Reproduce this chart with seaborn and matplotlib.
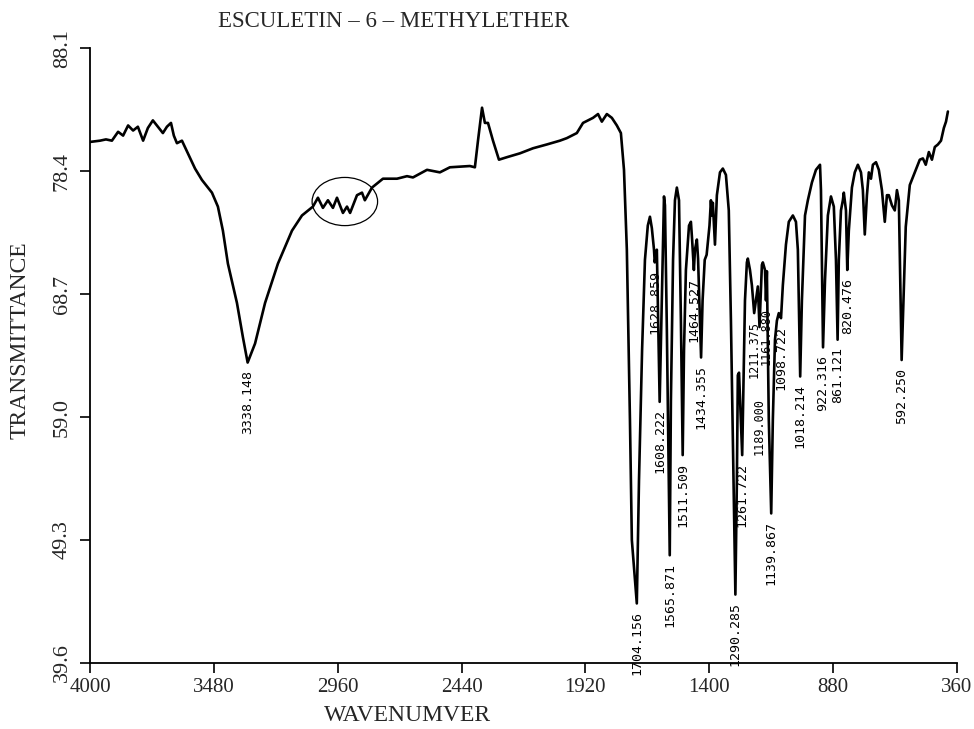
import pandas as pd
import matplotlib.pyplot as plt
import seaborn as sns
from matplotlib.patches import Ellipse

# IR spectrum trace (wavenumber in cm-1, transmittance in %)
wavenumber = [
    4000, 3958, 3933, 3908, 3882, 3861, 3840, 3819, 3799, 3777, 3757, 3736, 3715, 3694,
    3677, 3660, 3648, 3635, 3614, 3589, 3559, 3530, 3488, 3463, 3442, 3421, 3383, 3358,
    3338.148, 3307, 3265, 3211, 3152, 3110, 3064, 3043, 3022, 3001, 2980, 2963, 2938, 2921,
    2908, 2879, 2858, 2846, 2816, 2770, 2711, 2669, 2644, 2585, 2531, 2489, 2405, 2384,
    2371, 2354, 2342, 2329, 2308, 2283, 2249, 2195, 2140, 2082, 2027, 1998, 1956, 1930,
    1888, 1867, 1851, 1830, 1809, 1788, 1771, 1758, 1746, 1733, 1725, 1704.156, 1695, 1682,
    1670, 1658, 1649, 1641, 1632, 1628.859, 1624, 1620, 1608.222, 1599, 1590, 1586, 1578,
    1565.871, 1561, 1552, 1544, 1536, 1527, 1519, 1511.509, 1506, 1498, 1485, 1477, 1472,
    1464.527, 1460, 1452, 1447, 1434.355, 1428, 1419, 1411, 1399, 1393, 1389, 1385, 1376,
    1368, 1355, 1343, 1330, 1318, 1309, 1290.285, 1284, 1280, 1275, 1261.722, 1256, 1250,
    1242, 1238, 1229, 1221, 1211.375, 1196, 1189.000, 1179, 1175, 1166, 1161.880, 1158,
    1150, 1139.867, 1133, 1124, 1116, 1108, 1098.722, 1091, 1078, 1066, 1049, 1036, 1028,
    1018.214, 1011, 998, 986, 969, 952, 935, 931, 922.316, 914, 902, 889, 877, 868,
    861.121, 856, 847, 839, 835, 826, 820.476, 814, 801, 789, 776, 763, 755, 747, 738,
    730, 721, 713, 700, 688, 675, 663, 654, 646, 633, 621, 612, 604, 592.250, 583, 575,
    558, 537, 516, 503, 491, 478, 465, 453, 440, 427, 415, 406, 398,
]
transmittance = [
    80.7, 80.8, 80.9, 80.8, 81.5, 81.2, 82.0, 81.6, 81.9, 80.8, 81.8, 82.4, 81.9, 81.4,
    81.9, 82.2, 81.2, 80.6, 80.8, 79.8, 78.6, 77.7, 76.7, 75.6, 73.7, 71.1, 68.0, 65.3,
    63.3, 64.8, 68.0, 71.1, 73.7, 74.9, 75.6, 76.3, 75.5, 76.1, 75.5, 76.3, 75.1, 75.6,
    75.1, 76.5, 76.7, 76.1, 77.1, 77.8, 77.8, 78.0, 77.9, 78.5, 78.3, 78.7, 78.8, 78.7,
    80.8, 83.4, 82.2, 82.2, 80.8, 79.3, 79.5, 79.8, 80.2, 80.5, 80.8, 81.0, 81.4, 82.2,
    82.6, 82.9, 82.3, 82.9, 82.6, 82.0, 81.4, 78.5, 72.2, 58.8, 49.3, 44.3, 54.0, 64.3,
    71.4, 74.1, 74.8, 73.9, 72.2, 71.2, 71.8, 72.2, 60.2, 68.2, 76.4, 75.7, 65.9,
    48.1, 60.3, 71.4, 76.1, 77.1, 76.1, 66.6, 56.0, 64.3, 70.6, 74.1, 74.4, 73.0,
    70.6, 72.2, 73.0, 71.5, 63.7, 68.2, 71.4, 71.8, 74.1, 76.1, 74.9, 75.9, 72.6,
    76.5, 78.3, 78.6, 78.1, 75.3, 66.6, 45.0, 54.0, 62.3, 62.5, 56.0, 61.9, 68.2,
    71.2, 71.5, 70.6, 69.4, 67.2, 69.3, 66.1, 71.0, 71.2, 70.6, 68.2, 70.5,
    58.8, 51.4, 58.8, 65.1, 66.6, 67.2, 66.8, 69.4, 72.6, 74.4, 74.9, 74.4, 72.2,
    62.2, 68.2, 74.9, 76.1, 77.5, 78.5, 78.9, 76.9, 64.5, 69.8, 74.9, 76.4, 75.6, 71.4,
    65.1, 71.4, 75.3, 76.1, 76.7, 75.3, 70.6, 73.7, 77.1, 78.3, 78.9, 78.3, 76.9, 73.4, 76.5,
    78.3, 77.8, 78.9, 79.1, 78.5, 76.9, 74.4, 76.5, 76.5, 75.7, 75.3, 76.9, 76.1, 63.5, 69.0, 74.0,
    77.3, 78.3, 79.3, 79.4, 78.9, 79.9, 79.3, 80.3, 80.5, 80.8, 81.8, 82.3, 83.1,
]

# labelled absorption peaks
peak_wn = [3338.148, 1704.156, 1628.859, 1608.222, 1565.871, 1511.509, 1464.527,
           1434.355, 1290.285, 1261.722, 1211.375, 1189.000, 1161.880, 1139.867,
           1098.722, 1018.214, 922.316, 861.121, 820.476, 592.250]

# hand drawn circle on the scan (centre wn, centre T, width, height)
circle = [2930, 76.0, 275, 3.8]

y_ticks = [39.6, 49.3, 59.0, 68.7, 78.4, 88.1]
x_ticks = [4000, 3480, 2960, 2440, 1920, 1400, 880, 360]

df = pd.DataFrame({'wn': wavenumber, 'T': transmittance})
t_at = dict(zip(df['wn'], df['T']))

sns.set_style('ticks')
serif = ['Liberation Serif', 'DejaVu Serif']

fig = plt.figure(figsize=(9.74, 7.29), dpi=100)
ax = fig.add_axes([0.0924, 0.0905, 0.8901, 0.8435])

sns.lineplot(data=df, x='wn', y='T', sort=False, estimator=None,
             color='black', linewidth=1.9, ax=ax)

# peak labels below each minimum; 1189 sits lower so it clears its neighbours
for w in peak_wn:
    drop = 5.6 if w == 1189.0 else 0.6
    crowded = 1150 < w < 1220
    ax.text(w, t_at[w] - drop, f'{w:.3f}', rotation=90, ha='center', va='top',
            fontsize=8.5 if crowded else 9.5, family='DejaVu Sans Mono', color='black')

ax.add_patch(Ellipse((circle[0], circle[1]), circle[2], circle[3],
                     fill=False, edgecolor='black', linewidth=0.9))

ax.set_xlim(4000, 360)
ax.set_ylim(39.6, 88.1)
ax.set_xticks(x_ticks)
ax.set_xticklabels([str(v) for v in x_ticks], family=serif, fontsize=15)
ax.set_yticks(y_ticks)
ax.set_yticklabels([f'{v:.1f}' for v in y_ticks], family=serif, fontsize=16,
                   rotation=90, va='center')
ax.tick_params(axis='both', direction='out', length=7, width=1.2, color='black')
ax.tick_params(axis='y', pad=6)
ax.tick_params(axis='x', pad=4)
ax.set_xlabel('')
ax.set_ylabel('')
for side in ['top', 'right']:
    ax.spines[side].set_visible(False)
for side in ['left', 'bottom']:
    ax.spines[side].set_linewidth(1.3)
    ax.spines[side].set_color('black')

fig.text(0.224, 0.971, 'ESCULETIN – 6 – METHYLETHER', ha='left', va='center',
         family=serif, fontsize=16.5)
fig.text(0.021, 0.534, 'TRANSMITTANCE', rotation=90, ha='center', va='center',
         family=serif, fontsize=17)
fig.text(0.418, 0.018, 'WAVENUMVER', ha='center', va='center',
         family=serif, fontsize=17)

fig.savefig('out.png', dpi=100)
